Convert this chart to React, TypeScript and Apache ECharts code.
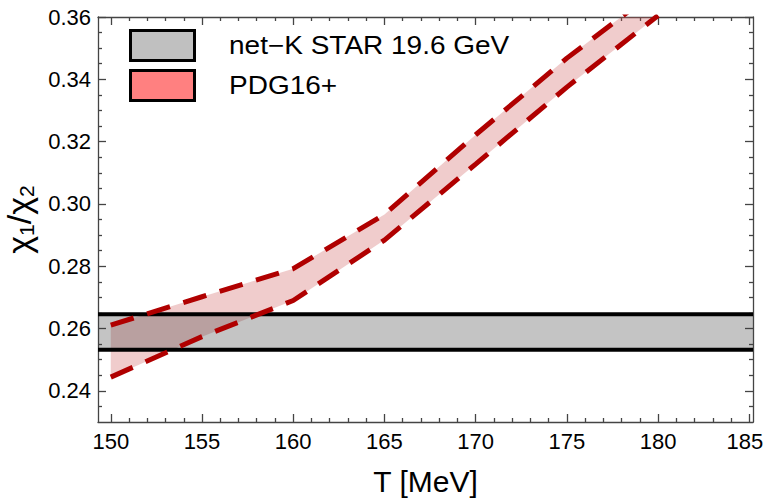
import React, { useEffect, useRef } from "react";
import * as echarts from "echarts";

// Temperature grid (MeV) and the PDG16+ band edges for chi1/chi2
const temperature = [150, 155, 160, 165, 170, 175, 180];
const pdgUpper = [0.2611, 0.2702, 0.2792, 0.2966, 0.3222, 0.3468, 0.369];
const pdgLower = [0.2444, 0.2574, 0.269, 0.2884, 0.3128, 0.3375, 0.3605];

// STAR net-kaon measurement at 19.6 GeV: [lower, upper]
const starBand = [0.2532, 0.2646];

// Axis ranges and tick labels
const xRange = [149.3, 185.2];
const yRange = [0.23, 0.36];
const xMajorTicks = [150, 155, 160, 165, 170, 175, 180, 185];
const yMajorTicks = [0.24, 0.26, 0.28, 0.3, 0.32, 0.34, 0.36];

const xMinorTicks: number[] = [];
for (let v = 151; v <= 184; v++) if (v % 5 !== 0) xMinorTicks.push(v);
const yMinorTicks: number[] = [];
for (let k = 47; k <= 71; k++) if (k % 4 !== 0) yMinorTicks.push(+(k * 0.005).toFixed(3));

const FONT = "'Liberation Sans', Arial, Helvetica, sans-serif";
const FRAME = { color: "#444", width: 1.3 };
const DASH = { color: "#b00000", width: 5, type: [24, 14], cap: "butt" };

const starName = "net\u2212K STAR 19.6 GeV";
const pdgName = "PDG16+";

function xAxisFor(position: "bottom" | "top", major: boolean, withLabels: boolean) {
  return {
    type: "value",
    position,
    min: xRange[0],
    max: xRange[1],
    axisLine: { show: major, onZero: false, lineStyle: FRAME },
    axisTick: {
      show: true,
      inside: true,
      length: major ? 8 : 4,
      customValues: major ? xMajorTicks : xMinorTicks,
      lineStyle: FRAME,
    },
    axisLabel: withLabels
      ? {
          show: true,
          customValues: xMajorTicks,
          fontSize: 22,
          color: "#000",
          fontFamily: FONT,
          margin: 8,
          // the last label is nudged inward so it stays on the canvas
          formatter: (v: number) => (v === xMajorTicks[xMajorTicks.length - 1] ? `{r|${v}}` : `${v}`),
          rich: { r: { fontSize: 22, color: "#000", fontFamily: FONT, padding: [0, 9, 0, 0] } },
        }
      : { show: false },
    splitLine: { show: false },
    ...(withLabels
      ? {
          name: "T [MeV]",
          nameLocation: "middle",
          nameGap: 44,
          nameTextStyle: { fontSize: 30, color: "#000", fontFamily: FONT },
        }
      : {}),
  };
}

function yAxisFor(position: "left" | "right", major: boolean, withLabels: boolean) {
  return {
    type: "value",
    position,
    min: yRange[0],
    max: yRange[1],
    axisLine: { show: major, onZero: false, lineStyle: FRAME },
    axisTick: {
      show: true,
      inside: true,
      length: major ? 8 : 4,
      customValues: major ? yMajorTicks : yMinorTicks,
      lineStyle: FRAME,
    },
    axisLabel: withLabels
      ? {
          show: true,
          customValues: yMajorTicks,
          fontSize: 22,
          color: "#000",
          fontFamily: FONT,
          margin: 7,
          formatter: (v: number) => v.toFixed(2),
        }
      : { show: false },
    splitLine: { show: false },
    ...(withLabels
      ? {
          name: "{c|\u03c7}{s|1}{c|/\u03c7}{s|2}",
          nameLocation: "middle",
          nameGap: 61,
          nameRotate: 90,
          nameTextStyle: {
            color: "#000",
            fontFamily: FONT,
            rich: {
              c: { fontSize: 34, fontFamily: FONT, color: "#000", lineHeight: 36 },
              s: { fontSize: 21, fontFamily: FONT, color: "#000", verticalAlign: "bottom", lineHeight: 36 },
            },
          },
        }
      : {}),
  };
}

export default function App() {
  const ref = useRef<HTMLDivElement>(null);

  useEffect(() => {
    if (!ref.current) return;
    const chart = echarts.init(ref.current, undefined, { renderer: "svg" });

    const lowerPts = temperature.map((t, i) => [t, pdgLower[i]]);
    const upperPts = temperature.map((t, i) => [t, pdgUpper[i]]);

    chart.setOption({
      animation: false,
      backgroundColor: "#fff",
      grid: {
        left: 98,
        right: 10,
        top: 17,
        bottom: 78,
        containLabel: false,
        outerBoundsMode: "none",
      },
      xAxis: [
        xAxisFor("bottom", true, true),
        xAxisFor("bottom", false, false),
        xAxisFor("top", true, false),
        xAxisFor("top", false, false),
      ],
      yAxis: [
        yAxisFor("left", true, true),
        yAxisFor("left", false, false),
        yAxisFor("right", true, false),
        yAxisFor("right", false, false),
      ],
      // legend boxes and labels
      graphic: [
        {
          type: "rect",
          x: 130.5,
          y: 30.5,
          shape: { width: 64, height: 30 },
          style: { fill: "#c0c0c0", stroke: "#000", lineWidth: 3 },
          z: 100,
        },
        {
          type: "rect",
          x: 130.5,
          y: 70.5,
          shape: { width: 64, height: 30 },
          style: { fill: "#ff8080", stroke: "#000", lineWidth: 3 },
          z: 100,
        },
        {
          type: "text",
          x: 229,
          y: 46,
          scaleX: 1.12,
          style: { text: starName, font: `25px ${FONT}`, fill: "#000", verticalAlign: "middle" },
          z: 100,
        },
        {
          type: "text",
          x: 229,
          y: 86,
          scaleX: 1.12,
          style: { text: pdgName, font: `25px ${FONT}`, fill: "#000", verticalAlign: "middle" },
          z: 100,
        },
      ],
      series: [
        {
          // PDG16+ band: filled region between the lower and upper edges
          name: pdgName,
          type: "custom",
          clip: true,
          silent: true,
          z: 2,
          data: temperature.map((t, i) => [t, pdgLower[i], pdgUpper[i]]),
          encode: { x: 0, y: [1, 2] },
          renderItem: (params: any, api: any) => {
            if (params.dataIndex !== 0) return null;
            const top = temperature.map((t, i) => api.coord([t, pdgUpper[i]]));
            const bottom = temperature.map((t, i) => api.coord([t, pdgLower[i]])).reverse();
            return {
              type: "polygon",
              shape: { points: top.concat(bottom) },
              style: { fill: "rgba(205,85,85,0.3)" },
            };
          },
        },
        {
          // STAR measurement band across the full temperature range
          name: starName,
          type: "custom",
          clip: true,
          silent: true,
          z: 3,
          data: [[xRange[0], starBand[0], xRange[1], starBand[1]]],
          encode: { x: [0, 2], y: [1, 3] },
          renderItem: (params: any, api: any) => {
            const p0 = api.coord([api.value(0), api.value(3)]);
            const p1 = api.coord([api.value(2), api.value(1)]);
            return {
              type: "rect",
              shape: { x: p0[0], y: p0[1], width: p1[0] - p0[0], height: p1[1] - p0[1] },
              style: { fill: "rgba(60,60,60,0.3)" },
            };
          },
        },
        {
          name: "starLow",
          type: "line",
          data: [
            [xRange[0], starBand[0]],
            [xRange[1], starBand[0]],
          ],
          symbol: "none",
          silent: true,
          z: 4,
          lineStyle: { color: "#000", width: 4 },
        },
        {
          name: "starHigh",
          type: "line",
          data: [
            [xRange[0], starBand[1]],
            [xRange[1], starBand[1]],
          ],
          symbol: "none",
          silent: true,
          z: 4,
          lineStyle: { color: "#000", width: 4 },
        },
        {
          name: "pdgUpperEdge",
          type: "line",
          data: upperPts,
          symbol: "none",
          silent: true,
          z: 10,
          lineStyle: DASH,
        },
        {
          name: "pdgLowerEdge",
          type: "line",
          data: lowerPts,
          symbol: "none",
          silent: true,
          z: 10,
          lineStyle: DASH,
        },
      ],
    });

    return () => chart.dispose();
  }, []);

  return (
    <div
      ref={ref}
      style={{ position: "absolute", left: 0, top: 0, width: 763, height: 500, background: "#fff" }}
    />
  );
}
